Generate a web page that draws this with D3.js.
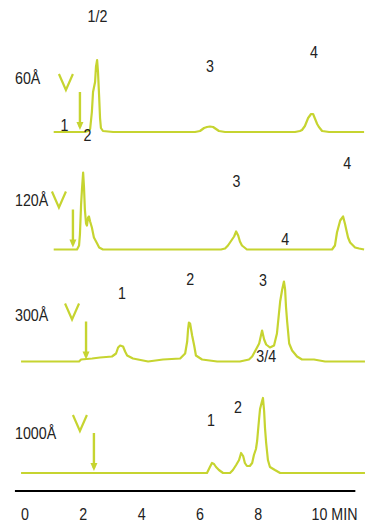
<!DOCTYPE html>
<html>
<head>
<meta charset="utf-8">
<script src="https://cdn.jsdelivr.net/npm/d3@7"></script>
<style>
  html, body { margin: 0; padding: 0; background: #fff; }
  svg { display: block; }
  text { font-family: "Liberation Sans", Arial, Helvetica, sans-serif; font-size: 17px; fill: #222; }
</style>
</head>
<body>
<svg id="chart" width="365" height="527"></svg>
<script>
// ---------------- DATA ----------------
const panelNames = ["60Å", "120Å", "300Å", "1000Å"];
const xTicks = [0, 2, 4, 6, 8, 10];
const xUnit = "MIN";

// chromatograms: [time (min), signal]
const trace60 = [
  [1.00,0],[2.07,0],[2.18,1],[2.25,3],[2.31,20],[2.35,40],[2.42,50],[2.45,65],[2.49,72],
  [2.52,60],[2.56,35],[2.59,14],[2.62,4],[2.69,1],[3.04,0],[5.85,0],[6.02,1],[6.16,4],
  [6.26,5],[6.36,5.5],[6.47,5],[6.57,3],[6.67,1],[6.88,0],[9.28,0],[9.45,1],[9.52,2],
  [9.62,6],[9.73,14],[9.83,18],[9.90,18],[9.97,13],[10.04,8],[10.10,5],[10.21,1],
  [10.45,0],[11.65,0]
];
const trace120 = [
  [1.00,0],[1.80,0],[1.87,4],[1.90,15],[1.94,45],[1.97,60],[2.01,77],[2.04,62],[2.07,40],
  [2.11,26],[2.14,24],[2.18,32],[2.21,33],[2.25,28],[2.31,22],[2.38,12],[2.49,6],[2.56,2],
  [2.69,0],[6.74,0],[6.88,1],[6.98,4],[7.12,10],[7.19,13],[7.26,18],[7.33,14],[7.39,8],
  [7.46,4],[7.63,0],[10.55,0],[10.65,4],[10.72,17],[10.83,29],[10.93,33],[11.00,25],
  [11.03,21],[11.10,12],[11.17,7],[11.34,2],[11.48,1],[11.65,0]
];
const trace300 = [
  [-0.12,0],[1.87,0],[1.94,2],[2.32,3],[2.59,4],[2.80,4.5],[3.00,5],[3.14,8],[3.21,14],
  [3.28,16],[3.38,15],[3.45,10],[3.52,6],[3.72,3],[4.24,0],[4.75,2],[5.34,3],[5.51,8],
  [5.58,20],[5.61,32],[5.64,39],[5.68,38],[5.75,26],[5.82,16],[5.88,6],[6.09,2],[6.61,0],
  [7.39,0],[7.70,2],[7.81,5],[7.94,12],[8.05,18],[8.15,31],[8.22,22],[8.29,17],[8.42,14],
  [8.56,16],[8.66,28],[8.77,60],[8.84,72],[8.90,80],[8.94,72],[8.97,55],[9.01,40],
  [9.08,18],[9.18,11],[9.35,5],[9.52,2],[9.93,2],[10.31,0],[11.68,0]
];
const trace1000 = [
  [-0.12,0],[6.26,0],[6.36,6],[6.43,10],[6.50,9],[6.57,6],[6.67,3],[6.81,0],[7.05,0],
  [7.15,3],[7.26,8],[7.36,13],[7.43,20],[7.50,17],[7.56,10],[7.63,7],[7.73,7],[7.81,10],
  [7.87,18],[7.94,24],[7.98,32],[8.01,42],[8.05,55],[8.08,64],[8.15,72],[8.18,75],
  [8.22,62],[8.25,45],[8.29,30],[8.35,13],[8.42,6],[8.59,3],[8.77,0],[11.68,0]
];
const traces = [trace60, trace120, trace300, trace1000];

// void / injection marker time per panel (min)
const markerTimes = [1.90, 1.66, 2.11, 2.38];

// peak labels: [panel index, text, time, height above baseline]
const peakLabels = [
  [0, "1/2", 2.50, 115.5], [0, "3", 6.36, 66], [0, "4", 9.93, 80],
  [1, "1", 1.37, 124], [1, "2", 2.16, 114.5], [1, "3", 7.27, 68], [1, "4", 11.07, 86],
  [2, "1", 3.34, 68], [2, "2", 5.68, 82.5], [2, "3", 8.18, 81.5], [2, "4", 8.94, 122],
  [3, "1", 6.40, 53], [3, "2", 7.32, 66], [3, "3/4", 8.29, 117]
];

// ---------------- LAYOUT ----------------
const W = 365, H = 527;
const traceColor = "#c6d430";
const narrow = 0.84;                              // condensed type look
const baselines = [132, 249.5, 361.5, 473];      // pixel baseline of each panel
const panelLabelRise = [53.5, 49.5, 46.5, 40];   // name label height above baseline
const axisY = 491;
const axisExtent = [-0.33, 11.35];

const svg = d3.select("#chart");
svg.append("rect").attr("width", W).attr("height", H).attr("fill", "#fff");

const x = d3.scaleLinear().domain([0, 10]).range([24.55, 316]);
const y = d3.scaleLinear().domain([0, 100]).range([0, -100]); // signal -> offset up

const line = d3.line().x(d => x(d[0])).y(d => y(d[1])).curve(d3.curveLinear);

panelNames.forEach((name, i) => {
  const g = svg.append("g").attr("transform", `translate(0,${baselines[i]})`);

  g.append("path")
    .datum(traces[i])
    .attr("d", line)
    .attr("fill", "none")
    .attr("stroke", traceColor)
    .attr("stroke-width", 2.2)
    .attr("stroke-linejoin", "round");

  // injection marker: "V" and down arrow
  const mx = x(markerTimes[i]);
  g.append("path")
    .attr("d", `M${mx - 21},${y(58)} L${mx - 14},${y(42)} L${mx - 7},${y(58)}`)
    .attr("fill", "none").attr("stroke", traceColor).attr("stroke-width", 2.2);
  g.append("line")
    .attr("x1", mx).attr("x2", mx).attr("y1", y(40)).attr("y2", y(5))
    .attr("stroke", traceColor).attr("stroke-width", 2.4);
  g.append("path")
    .attr("d", `M${mx - 3.5},${y(10)} L${mx + 3.5},${y(10)} L${mx},${y(2)} Z`)
    .attr("fill", traceColor);

  g.append("text")
    .attr("transform", `translate(15,${y(panelLabelRise[i])}) scale(${narrow},1)`)
    .attr("dy", "0.35em")
    .text(name);

  g.selectAll("text.peak")
    .data(peakLabels.filter(p => p[0] === i))
    .join("text")
    .attr("class", "peak")
    .attr("transform", d => `translate(${x(d[2])},${y(d[3])}) scale(${narrow},1)`)
    .attr("dy", "0.35em")
    .attr("text-anchor", "middle")
    .text(d => d[1]);
});

// x axis
svg.append("line")
  .attr("x1", x(axisExtent[0])).attr("x2", x(axisExtent[1]))
  .attr("y1", axisY).attr("y2", axisY)
  .attr("stroke", "#000").attr("stroke-width", 2);

const axis = d3.axisBottom(x).tickValues(xTicks).tickSize(0).tickPadding(17)
  .tickFormat(d => d === 10 ? `${d} ${xUnit}` : d);
const ax = svg.append("g").attr("transform", `translate(0,${axisY})`).call(axis);
ax.select(".domain").remove();
ax.selectAll("text")
  .attr("fill", "#222")
  .attr("transform", `scale(${narrow},1)`)
  .style("font-size", "17px")
  .style("font-family", '"Liberation Sans", Arial, sans-serif');
ax.selectAll(".tick").filter(d => d === 10).select("text")
  .attr("text-anchor", "start").attr("x", -6);
</script>
</body>
</html>
